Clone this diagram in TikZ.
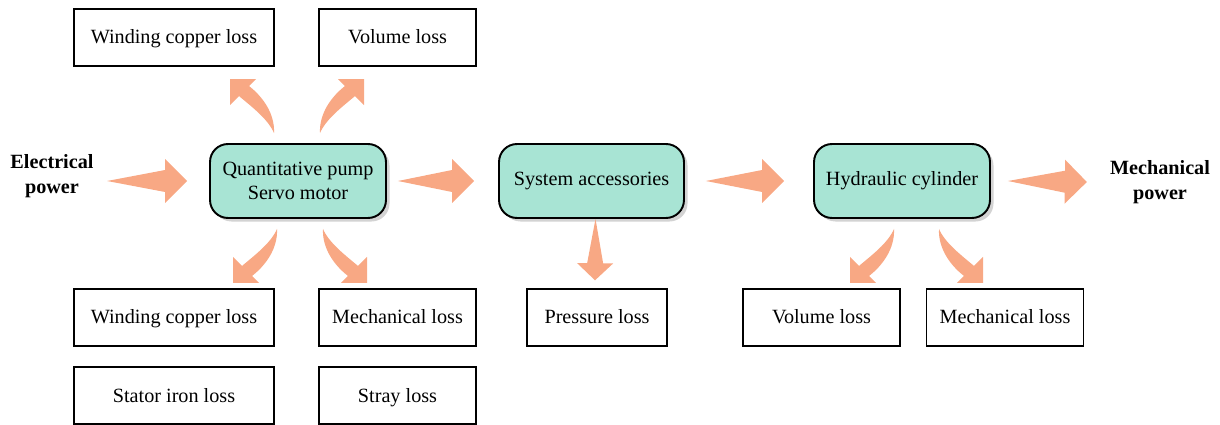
\documentclass[tikz,border=0pt]{standalone}
\usepackage{fontspec}
\setmainfont{Liberation Serif}
\usetikzlibrary{positioning,calc,shadows}
\definecolor{flowfill}{RGB}{248,168,132}
\definecolor{unitfill}{RGB}{168,228,212}
\newcommand{\diagfont}{\fontsize{11.5pt}{14pt}\selectfont}
\tikzset{
  unit/.style={rectangle, draw=black, rounded corners=0.36cm, line width=1.1pt,
               fill=unitfill, minimum width=3.52cm, minimum height=1.48cm,
               align=center, drop shadow={opacity=0.35, shadow xshift=2pt, shadow yshift=-2pt}},
  loss/.style={rectangle, draw=black, line width=0.8pt, text height=8pt, text depth=0.6pt,
               minimum width=3.14cm, minimum height=1.14cm, align=center},
  port/.style={font=\diagfont\bfseries, align=center},
  flow/.style={fill=flowfill},
  % bent arrow towards a loss box, tail at the origin
  lossbranch/.pic={
    \fill[flow] (0,0) .. controls (1,20) and (-12,37) .. (-25,47)
      -- (-18,54) -- (-44,54) -- (-44,28) -- (-35,37)
      .. controls (-22,26) and (-6,14) .. (0,0) -- cycle;
  },
}
% tapered straight arrow: tail, tip, head length, head half width, shaft half width
\newcommand{\flowarrow}[5]{%
  \coordinate (fa-t) at (#1);
  \coordinate (fa-p) at (#2);
  \coordinate (fa-b) at ($(fa-p)!#3!(fa-t)$);
  \fill[flow] (fa-t) -- ($(fa-b)!#5!90:(fa-p)$) -- ($(fa-b)!#4!90:(fa-p)$) -- (fa-p)
    -- ($(fa-b)!#4!-90:(fa-p)$) -- ($(fa-b)!#5!-90:(fa-p)$) -- cycle;
}

\begin{document}
\begin{tikzpicture}[x=0.02cm, y=-0.02cm, font=\diagfont]
  \useasboundingbox (0,0) rectangle (1220,425);

  % main chain
  \node[port] (elec) at (52,176) {Electrical\\power};
  \node[unit] (pump) at (298,181) {Quantitative pump\\Servo motor};
  \node[unit, minimum width=3.7cm] (acc) at (591.5,181) {System accessories};
  \node[unit] (cyl) at (902,181) {Hydraulic cylinder};
  \node[port] (mech) at (1160,182) {Mechanical\\power};

  % losses
  \node[loss, minimum width=4cm] (wcu-top) at (174,37.5) {Winding copper loss};
  \node[loss] (vol-top) at (397.5,37.5) {Volume loss};
  \node[loss, minimum width=4cm] (wcu-bot) at (174,317.5) {Winding copper loss};
  \node[loss] (mech-pump) at (397.5,317.5) {Mechanical loss};
  \node[loss, minimum width=4cm] (iron) at (174,395.5) {Stator iron loss};
  \node[loss] (stray) at (397.5,395.5) {Stray loss};
  \node[loss, minimum width=2.8cm] (press) at (597,317.5) {Pressure loss};
  \node[loss] (vol-cyl) at (821.5,317.5) {Volume loss};
  \node[loss] (mech-cyl) at (1005,317.5) {Mechanical loss};

  % power flow
  \flowarrow{$(pump.west)+(-102,0)$}{$(pump.west)+(-22,0)$}{0.44cm}{0.44cm}{0.22cm}
  \flowarrow{$(pump.east)+(11,0)$}{$(acc.west)+(-24,0)$}{0.44cm}{0.44cm}{0.22cm}
  \flowarrow{$(acc.east)+(21,0)$}{$(cyl.west)+(-29,0)$}{0.44cm}{0.44cm}{0.22cm}
  \flowarrow{$(cyl.east)+(17,0)$}{$(mech.west)+(-17,0)$}{0.44cm}{0.44cm}{0.22cm}
  \flowarrow{$(acc.south)+(4,0)$}{$(press.north)+(-2,-8)$}{0.34cm}{0.36cm}{0.16cm}

  % branches to the losses
  \pic[yscale=-1] at ($(pump.north)+(-24,-10)$) {lossbranch};
  \pic[xscale=-1, yscale=-1] at ($(pump.north)+(22,-10)$) {lossbranch};
  \pic at ($(pump.south)+(-21,10)$) {lossbranch};
  \pic[xscale=-1] at ($(pump.south)+(25,10)$) {lossbranch};
  \pic at ($(cyl.south)+(-8,10)$) {lossbranch};
  \pic[xscale=-1] at ($(cyl.south)+(37,10)$) {lossbranch};
\end{tikzpicture}
\end{document}
